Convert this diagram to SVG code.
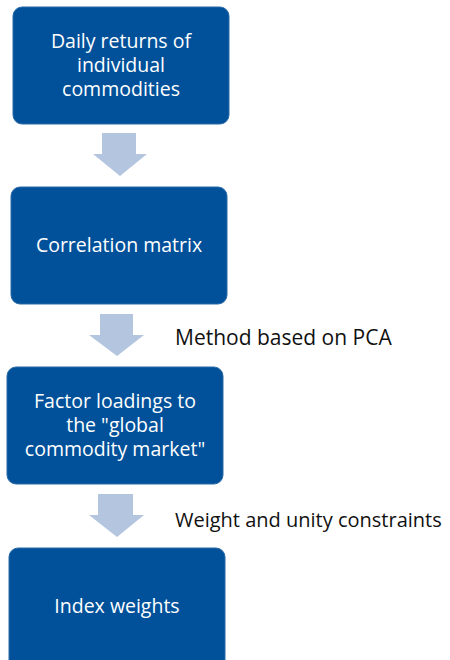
<svg xmlns="http://www.w3.org/2000/svg" width="450" height="660" viewBox="0 0 450 660">
  <style>
    .box { fill: #01519a; stroke: #2a6aa8; stroke-width: 1; }
    .btxt { fill: #ffffff; font-family: "Open Sans", "Liberation Sans", sans-serif; font-size: 19.5px; text-anchor: middle; }
    .note { fill: #111111; font-family: "Open Sans", "Liberation Sans", sans-serif; font-size: 21px; }
    .arrow { fill: #b4c5e0; }
  </style>
  <rect width="450" height="660" fill="#ffffff"/>

  <g id="connectors">
    <path class="arrow" d="M102,133 H136 V154 H147 L120,176 L93,154 H102 Z"/>
    <path class="arrow" d="M100,314 H133 V335 H144 L117,356 L89,335 H100 Z"/>
    <path class="arrow" d="M98,494 H133 V515 H144 L117,537 L89,515 H98 Z"/>
    <text class="note" x="175" y="345">Method based on PCA</text>
    <text class="note" x="175" y="527" style="font-size:20px">Weight and unity constraints</text>
  </g>

  <g id="daily-returns">
    <rect class="box" x="13" y="7" width="216" height="117" rx="9"/>
    <text class="btxt" x="121" y="48">Daily returns of</text>
    <text class="btxt" x="121" y="72">individual</text>
    <text class="btxt" x="121" y="96">commodities</text>
  </g>

  <g id="correlation-matrix">
    <rect class="box" x="11" y="187" width="216" height="117" rx="9"/>
    <text class="btxt" x="119" y="252">Correlation matrix</text>
  </g>

  <g id="factor-loadings">
    <rect class="box" x="7" y="367" width="216" height="117" rx="9"/>
    <text class="btxt" x="115" y="408">Factor loadings to</text>
    <text class="btxt" x="115" y="432">the "global</text>
    <text class="btxt" x="115" y="456">commodity market"</text>
  </g>

  <g id="index-weights">
    <rect class="box" x="9" y="548" width="216" height="130" rx="9"/>
    <text class="btxt" x="117" y="613">Index weights</text>
  </g>
</svg>
